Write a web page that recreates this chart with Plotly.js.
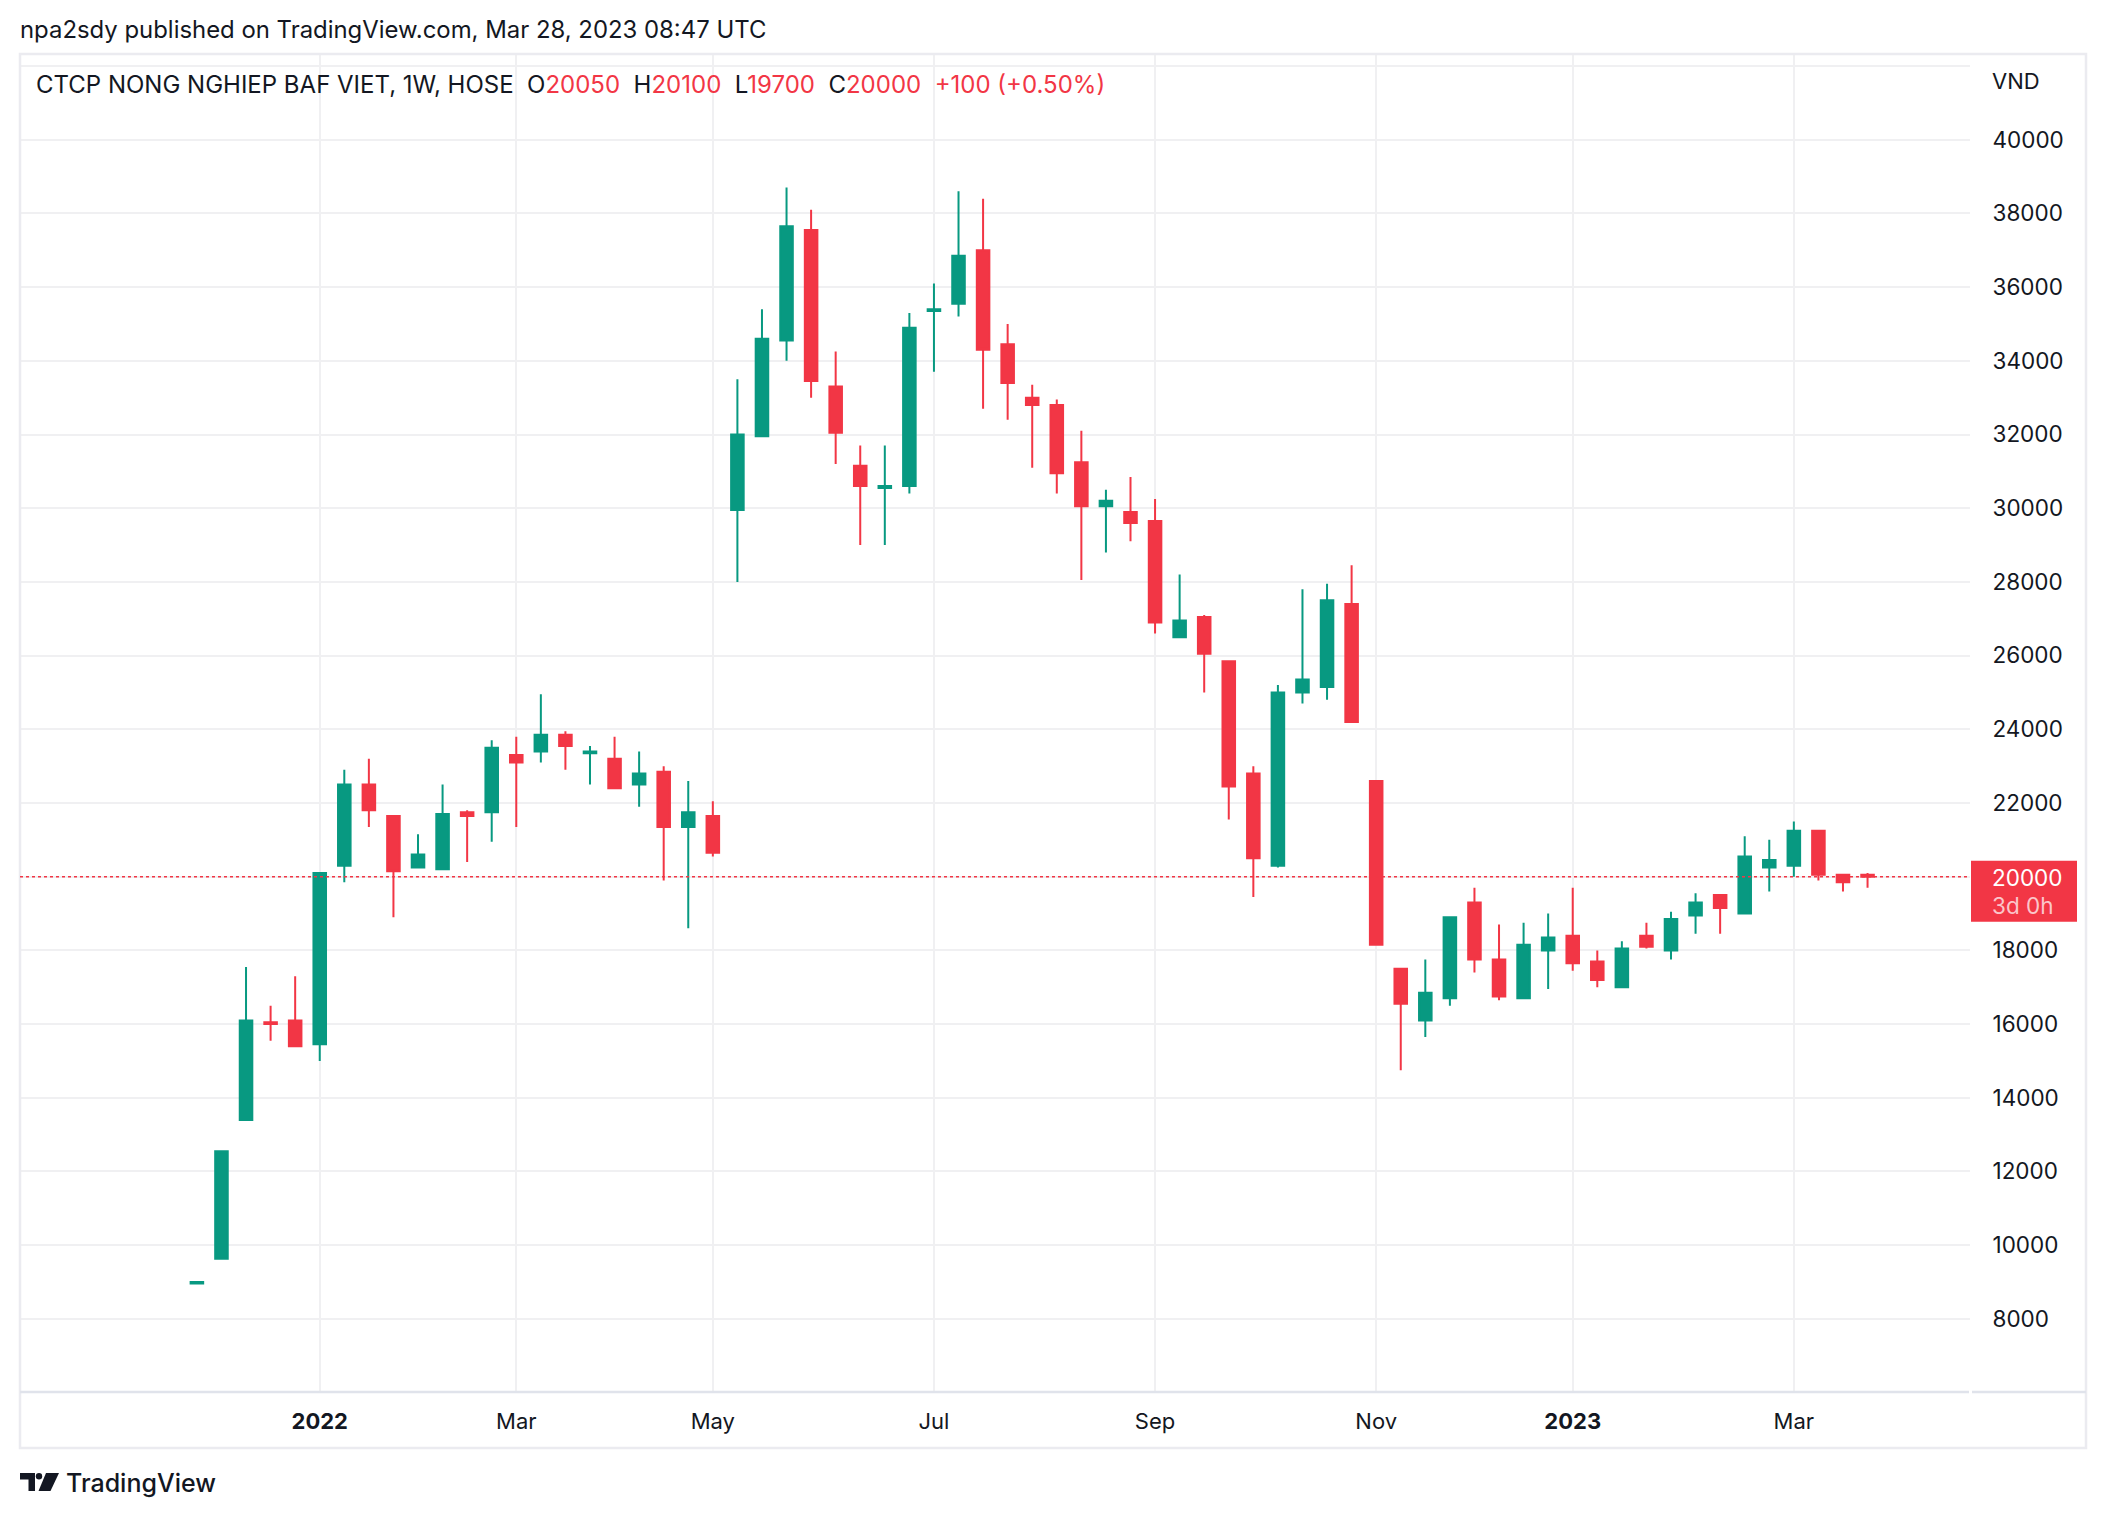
<!DOCTYPE html>
<html>
<head>
<meta charset="utf-8">
<script src="https://cdn.plot.ly/plotly-3.0.1.min.js"></script>
<style>
html,body{margin:0;padding:0;background:#ffffff;}
#chart{width:2106px;height:1518px;}
</style>
</head>
<body>
<div id="chart"></div>
<script>
// ---- data (weekly bars, VND) ----
const weeks = [
 '2021-11-29','2021-12-06','2021-12-13','2021-12-20','2021-12-27',
 '2022-01-03','2022-01-10','2022-01-17','2022-01-24','2022-02-07','2022-02-14','2022-02-21','2022-02-28',
 '2022-03-07','2022-03-14','2022-03-21','2022-03-28','2022-04-04','2022-04-11','2022-04-18','2022-04-25',
 '2022-05-02','2022-05-09','2022-05-16','2022-05-23','2022-05-30','2022-06-06','2022-06-13','2022-06-20','2022-06-27',
 '2022-07-04','2022-07-11','2022-07-18','2022-07-25','2022-08-01','2022-08-08','2022-08-15','2022-08-22','2022-08-29',
 '2022-09-05','2022-09-12','2022-09-19','2022-09-26','2022-10-03','2022-10-10','2022-10-17','2022-10-24','2022-10-31',
 '2022-11-07','2022-11-14','2022-11-21','2022-11-28','2022-12-05','2022-12-12','2022-12-19','2022-12-26',
 '2023-01-02','2023-01-09','2023-01-16','2023-01-23','2023-01-30','2023-02-06','2023-02-13','2023-02-20','2023-02-27',
 '2023-03-06','2023-03-13','2023-03-20','2023-03-27'
];
const openP = [
 8960,9630,13400,16050,16100,
 15450,20300,22500,21650,20250,20200,21750,21750,
 23300,23400,23850,23350,23200,22500,22850,21350,
 21650,29950,31950,34550,37550,33300,31150,30550,30600,
 35350,35550,37000,34450,33000,32800,31250,30050,29900,
 29650,26500,27050,25850,22800,20300,25000,25150,27400,
 22600,17500,16100,16700,19300,17750,16700,18000,
 18400,17700,17000,18400,18000,18950,19500,19000,20250,
 20300,21250,20050,20050
];
const highP = [
 9000,12550,17550,16500,17300,
 20100,22900,23200,21650,21150,22500,21800,23700,
 23800,24950,23950,23550,23800,23400,23000,22600,
 22050,33500,35400,38700,38100,34250,31700,31700,35300,
 36100,38600,38400,35000,33350,32950,32100,30500,30850,
 30250,28200,27100,25850,23000,25200,27800,27950,28450,
 22600,17500,17750,18900,19700,18700,18750,19000,
 19700,18000,18250,18750,19050,19550,19500,21100,21000,
 21500,21250,20050,20100
];
const lowP = [
 8960,9630,13400,15550,15400,
 15000,19850,21350,18900,20250,20200,20400,20950,
 21350,23100,22900,22500,22400,21900,19900,18600,
 20550,28000,31950,34000,33000,31200,29000,29000,30400,
 33700,35200,32700,32400,31100,30400,28050,28800,29100,
 26600,26500,25000,21550,19450,20250,24700,24800,24200,
 18150,14750,15650,16500,17400,16650,16700,16950,
 17450,17000,17000,18050,17750,18450,18450,19000,19600,
 20000,19900,19600,19700
];
const closeP = [
 9000,12550,16100,16000,15400,
 20100,22500,21800,20150,20600,21700,21650,23500,
 23100,23850,23550,23400,22400,22800,21350,21750,
 20650,32000,34600,37650,33450,32050,30600,30600,34900,
 35400,36850,34300,33400,32800,30950,30050,30200,29600,
 26900,26950,26050,22450,20500,25000,25350,27500,24200,
 18150,16550,16850,18900,17750,16750,18150,18350,
 17650,17200,18050,18100,18850,19300,19150,20550,20450,
 21250,20050,19850,20000
];
const monthTickWeeks = ['2022-01-03','2022-03-07','2022-05-02','2022-07-04','2022-09-05','2022-11-07','2023-01-02','2023-03-06'];
const monthTickLabels = ['<b>2022</b>','Mar','May','Jul','Sep','Nov','<b>2023</b>','Mar'];
const priceTicks = [8000,10000,12000,14000,16000,18000,20000,22000,24000,26000,28000,30000,32000,34000,36000,38000,40000,42000];
const priceTickLabels = ['8000','10000','12000','14000','16000','18000','','22000','24000','26000','28000','30000','32000','34000','36000','38000','40000',''];

const headerText = 'npa2sdy published on TradingView.com, Mar 28, 2023 08:47 UTC';
const symbolText = 'CTCP NONG NGHIEP BAF VIET, 1W, HOSE';
const lastOHLC = {o: 20050, h: 20100, l: 19700, c: 20000, chg: '+100 (+0.50%)'};
const countdownText = '3d 0h';
const currencyText = 'VND';

// ---- layout helpers (pixel -> paper) ----
const W = 2106, H = 1518;
const M = {l: 20, r: 136, t: 54, b: 126};
const PW = W - M.l - M.r, PH = H - M.t - M.b;
const px = x => (x - M.l) / PW;
const py = y => 1 - (y - M.t) / PH;
const GREEN = '#089981', RED = '#F23645', TXT = '#131722';
const FONT = 'Inter, "Noto Sans", sans-serif';
const NB = '\u00A0';

const trace = {
  type: 'candlestick',
  x: weeks, open: openP, high: highP, low: lowP, close: closeP,
  increasing: {line: {color: GREEN, width: 2}, fillcolor: GREEN},
  decreasing: {line: {color: RED, width: 2}, fillcolor: RED},
  whiskerwidth: 0,
  hoverinfo: 'none',
  showlegend: false
};

const last = closeP[closeP.length - 1];
const legendHtml = symbolText + NB + NB +
  'O<span style="color:' + RED + '">' + lastOHLC.o + '</span>' + NB + NB +
  'H<span style="color:' + RED + '">' + lastOHLC.h + '</span>' + NB + NB +
  'L<span style="color:' + RED + '">' + lastOHLC.l + '</span>' + NB + NB +
  'C<span style="color:' + RED + '">' + lastOHLC.c + '</span>' + NB + NB +
  '<span style="color:' + RED + '">' + lastOHLC.chg + '</span>';

function pathFrom(pts){
  return pts.map((p,i)=>(i?'L':'M')+px(p[0]).toFixed(5)+','+py(p[1]).toFixed(5)).join(' ')+' Z';
}

const shapes = [
  // outer chart frame
  {type:'rect', xref:'paper', yref:'paper', x0:px(20), x1:px(2086), y0:py(54), y1:py(1448),
   line:{color:'#ebebf0', width:2.5}, fillcolor:'rgba(0,0,0,0)', layer:'above'},
  // time-axis separator
  {type:'line', xref:'paper', yref:'paper', x0:px(20), x1:px(1969), y0:py(1392), y1:py(1392),
   line:{color:'#e0e3eb', width:2.5}},
  {type:'line', xref:'paper', yref:'paper', x0:px(1972), x1:px(2086), y0:py(1392), y1:py(1392),
   line:{color:'#e0e3eb', width:2.5}},
  // last price dotted line
  {type:'line', xref:'paper', yref:'y', x0:0, x1:1, y0:last, y1:last,
   line:{color:RED, width:1.6, dash:'dot'}, layer:'above'},
  // last price label box
  {type:'rect', xref:'paper', yref:'y', ysizemode:'pixel', yanchor:last,
   x0:px(1971), x1:px(2077), y0:-45, y1:16,
   fillcolor:RED, line:{width:0}, layer:'above'},
  // TradingView logo
  {type:'path', xref:'paper', yref:'paper', fillcolor:TXT, line:{width:0},
   path: pathFrom([[20,1473],[35,1473],[35,1491],[28.5,1491],[28.5,1479.5],[20,1479.5]])},
  {type:'circle', xref:'paper', yref:'paper', fillcolor:TXT, line:{width:0},
   x0:px(35.8), x1:px(42.2), y0:py(1473), y1:py(1479.4)},
  {type:'path', xref:'paper', yref:'paper', fillcolor:TXT, line:{width:0},
   path: pathFrom([[46,1473],[59,1473],[50.5,1491],[38.5,1491]])}
];

const annotations = [
  {xref:'paper', yref:'paper', x:px(18), y:py(30), xanchor:'left', yanchor:'middle', showarrow:false,
   text:headerText, font:{family:FONT, size:23.9, color:TXT}},
  {xref:'paper', yref:'paper', x:px(34), y:py(85), xanchor:'left', yanchor:'middle', showarrow:false,
   text:legendHtml, font:{family:FONT, size:24, color:TXT}},
  {xref:'paper', yref:'paper', x:px(1990), y:py(81), xanchor:'left', yanchor:'middle', showarrow:false,
   text:currencyText, font:{family:FONT, size:22, color:TXT}},
  {xref:'paper', yref:'y', x:px(1990), y:last, yshift:-1, xanchor:'left', yanchor:'middle', showarrow:false,
   text:String(last), font:{family:FONT, size:22.5, color:'#ffffff'}},
  {xref:'paper', yref:'y', x:px(1990), y:last, yshift:-29, xanchor:'left', yanchor:'middle', showarrow:false,
   text:countdownText, font:{family:FONT, size:22.5, color:'rgba(255,255,255,0.72)'}},
  {xref:'paper', yref:'paper', x:px(64), y:py(1483), xanchor:'left', yanchor:'middle', showarrow:false,
   text:'TradingView', font:{family:FONT, size:25, color:TXT, weight:500}}
];

const layout = {
  width: W, height: H,
  margin: M,
  paper_bgcolor: '#ffffff', plot_bgcolor: '#ffffff',
  font: {family: FONT, color: TXT},
  showlegend: false,
  boxgap: 0.27,
  hovermode: false,
  dragmode: false,
  xaxis: {
    type: 'category',
    range: [-7.2, 72.17],
    tickmode: 'array', tickvals: monthTickWeeks, ticktext: monthTickLabels,
    showgrid: true, gridcolor: '#f0f0f2', gridwidth: 2,
    zeroline: false, showline: false,
    ticks: 'outside', ticklen: 10, tickcolor: 'rgba(0,0,0,0)',
    tickfont: {family: FONT, size: 22, color: TXT},
    rangeslider: {visible: false},
    fixedrange: true
  },
  yaxis: {
    side: 'right',
    range: [6016, 42326],
    tickmode: 'array', tickvals: priceTicks, ticktext: priceTickLabels,
    showgrid: true, gridcolor: '#f0f0f2', gridwidth: 2,
    zeroline: false, showline: false,
    ticks: 'outside', ticklen: 17, tickcolor: 'rgba(0,0,0,0)',
    tickfont: {family: FONT, size: 22.5, color: TXT},
    fixedrange: true
  },
  shapes: shapes,
  annotations: annotations
};

Plotly.newPlot('chart', [trace], layout, {displayModeBar: false, staticPlot: true});
</script>
</body>
</html>
